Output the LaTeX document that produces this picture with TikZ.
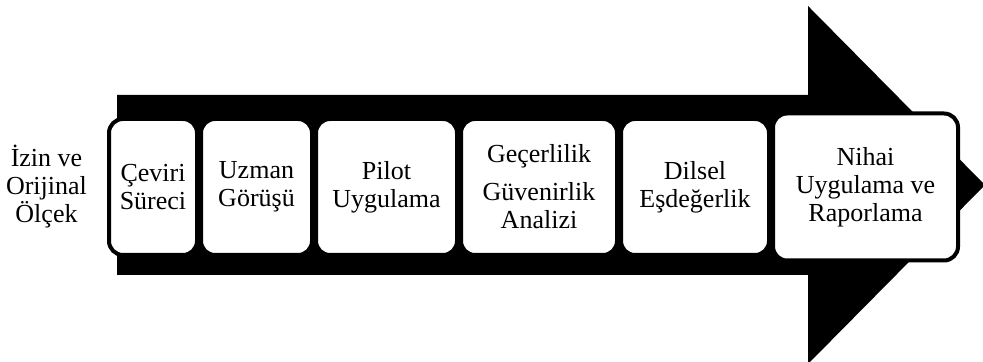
\documentclass[tikz,border=0pt]{standalone}
\usepackage{fontspec}
\setmainfont{Liberation Serif}
\usetikzlibrary{positioning}

\begin{document}
\begin{tikzpicture}[
    x=0.5pt, y=0.5pt,
    stepbox/.style={rectangle, draw=black, fill=white, line width=2pt, rounded corners=7pt,
        minimum width=#1, minimum height=68pt, inner sep=1pt, align=center,
        font=\fontsize{13}{14}\selectfont},
    label/.style={align=center, font=\fontsize{13}{14}\selectfont},
]
\useasboundingbox (0,0) rectangle (983,362);

% ========== BIG ARROW ==========
\fill[black] (117,87) -- (117,267) -- (808,267) -- (808,356) -- (985,177)
    -- (808,-2) -- (808,87) -- cycle;

% ========== STEPS ==========
\node[stepbox=44pt] (c1) at (153,175) {Çeviri\\Süreci};
\node[stepbox=55.5pt, right=0pt of c1] (c2) {Uzman\\Görüşü};
\node[stepbox=70.5pt, right=0pt of c2] (c3) {Pilot\\Uygulama};
\node[stepbox=78pt, right=0pt of c3] (c4) {Geçerlilik\\[5pt]Güvenirlik\\Analizi};
\node[stepbox=74pt, right=0pt of c4] (c5) {Dilsel\\Eşdeğerlik};
\node[stepbox=92.5pt, minimum height=73.5pt, right=0pt of c5] (c6) {Nihai\\Uygulama ve\\Raporlama};

% ========== INPUT ==========
\node[label, left=6.5pt of c1] (izin) {İzin ve\\Orijinal\\Ölçek};

\end{tikzpicture}
\end{document}
